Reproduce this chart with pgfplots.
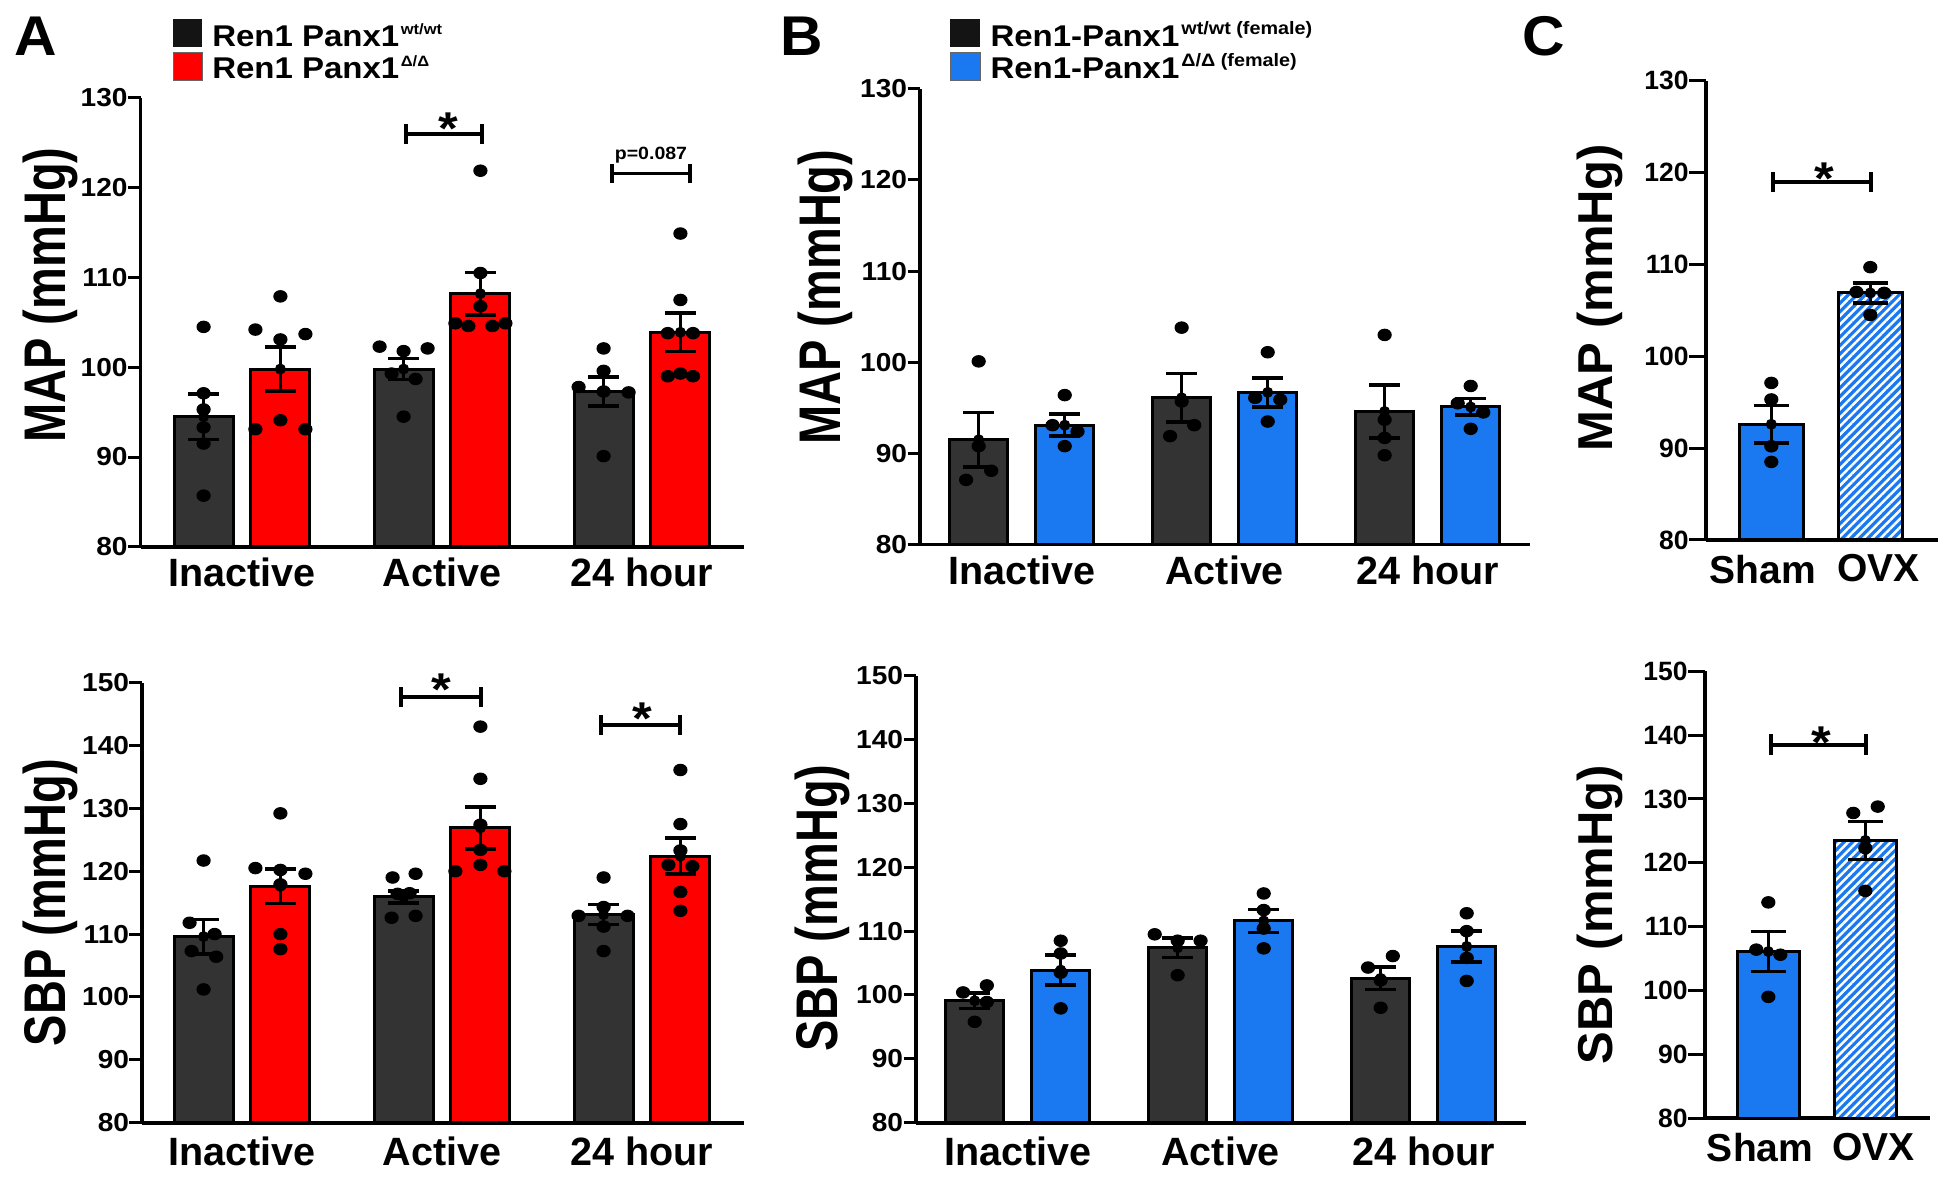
\documentclass[border=0pt]{standalone}
\usepackage{fontspec}
\setmainfont{Liberation Sans}
\newfontfamily\fK[FakeStretch=1.08]{Liberation Sans}
\newfontfamily\fT[FakeStretch=1.1]{Liberation Sans}
\newfontfamily\fM[FakeStretch=0.8]{Liberation Sans}
\newfontfamily\fL[FakeStretch=1.05]{Liberation Sans}
\usepackage{pgfplots}
\pgfplotsset{compat=1.18}
\usetikzlibrary{patterns.meta}
\definecolor{dg}{HTML}{333333}
\definecolor{rd}{HTML}{FF0000}
\definecolor{bl}{HTML}{1A78F0}
\tikzset{yl/.style={font=\fM\bfseries\fontsize{23.5}{26}\selectfont, anchor=base, inner sep=0pt}}
\pgfplotsset{
  panel/.style={
    scale only axis, anchor=south west,
    axis x line*=bottom, axis y line*=left,
    axis line style={line width=1.5pt, black},
    tick align=outside, major tick length=5pt,
    xtick style={draw=none},
    ytick style={line width=1.2pt, black},
    clip mode=individual,
    /pgf/number format/assume math mode=true,
    yticklabel style={font=\fK\bfseries\fontsize{10.4}{12}\selectfont, inner sep=0pt, anchor=east},
    xticklabel style={font=\bfseries\fontsize{15.8}{18}\selectfont, inner sep=0pt, anchor=north, yshift=0.6pt},
    xtick={0,1,2}, xticklabels={Inactive,Active,24 hour},
    ymin=80,
  },
  low/.style={xticklabel style={yshift=-1.1pt}},
  panelC/.style={panel, xtick={-0.085,1.085}, xticklabels={Sham,OVX}, major tick length=6.8pt,
    yticklabel style={font=\bfseries\fontsize{10.6}{12}\selectfont},
    xticklabel style={font=\bfseries\fontsize{15.6}{18}\selectfont, yshift=0.5pt}},
  bars/.style={ybar, draw=black, line width=1.2pt},
  eb/.style={forget plot, only marks, mark=none,
    error bars/y dir=both, error bars/y explicit,
    error bars/error bar style={line width=1.4pt, draw=black},
    error bars/error mark options={draw=black, line width=1.4pt, mark size=6.2pt, rotate=90}},
  ebC/.style={eb, error bars/error mark options={draw=black, line width=1.4pt, mark size=7pt, rotate=90}},
  dots/.style={only marks, mark=*, mark size=2.3pt, mark options={fill=black, draw=black, xscale=1.15}},
}
\newcommand{\brk}[5]{\draw[line width=1.5pt, black] (axis cs:#1,#3) -- (axis cs:#2,#3) (axis cs:#1,#4) -- (axis cs:#1,#5) (axis cs:#2,#4) -- (axis cs:#2,#5);}
\newcommand{\sig}[2]{\node[font=\fT\bfseries\fontsize{18.4}{20}\selectfont, anchor=base, inner sep=0pt, yshift=-10.5pt] at (axis cs:#1,#2) {*};}
\begin{document}
\begin{tikzpicture}
\path (0,0) rectangle (780pt,472pt);
% panel letters
\node[anchor=base west, inner sep=0pt, font=\fL\bfseries\fontsize{22.4}{24}\selectfont] at (5.6pt,449.8pt) {A};
\node[anchor=base west, inner sep=0pt, font=\fL\bfseries\fontsize{22.4}{24}\selectfont] at (312pt,449.8pt) {B};
\node[anchor=base west, inner sep=0pt, font=\fL\bfseries\fontsize{22.4}{24}\selectfont] at (608.8pt,449.8pt) {C};
% legend A
\fill[black!92] (69.2pt,453.2pt) rectangle (80.8pt,464.4pt);
\filldraw[fill=rd, draw=black!60, line width=0.3pt] (69.2pt,440pt) rectangle (80.8pt,451.2pt);
\node[anchor=base west, inner sep=0pt, font=\fT\bfseries\fontsize{12}{14}\selectfont] at (84.7pt,453.3pt) {Ren1 Panx1\kern0.6pt\raisebox{4.7pt}{\fontsize{6}{7}\selectfont wt/wt}};
\node[anchor=base west, inner sep=0pt, font=\fT\bfseries\fontsize{12}{14}\selectfont] at (84.7pt,440.7pt) {Ren1 Panx1\kern0.6pt\raisebox{4.7pt}{\fontsize{6}{7}\selectfont Δ/Δ}};
% legend B
\fill[black!92] (380pt,453.2pt) rectangle (392pt,464.4pt);
\filldraw[fill=bl, draw=black!60, line width=0.3pt] (380pt,440pt) rectangle (392pt,451.2pt);
\node[anchor=base west, inner sep=0pt, font=\fT\bfseries\fontsize{12}{14}\selectfont] at (396pt,453.3pt) {Ren1-Panx1\kern0.8pt\raisebox{4.7pt}{\fontsize{7.2}{8}\selectfont wt/wt (female)}};
\node[anchor=base west, inner sep=0pt, font=\fT\bfseries\fontsize{12}{14}\selectfont] at (396pt,440.7pt) {Ren1-Panx1\kern0.8pt\raisebox{4.7pt}{\fontsize{7.2}{8}\selectfont Δ/Δ (female)}};

% ---------- A top ----------
\begin{axis}[panel, at={(56.24pt,253.28pt)}, width=241.36pt, height=179.52pt,
  xmin=-0.507, xmax=2.51, ymax=130, ytick={80,90,...,130},
  ylabel={MAP (mmHg)}, ylabel style={yl, at={(axis description cs:-0.1246,0.561)}}]
\addplot[bars, fill=dg, bar width=23.6pt, bar shift=-15.34pt] coordinates {(0,94.5) (1,99.8) (2,97.3)};
\addplot[bars, fill=rd, bar width=23.6pt, bar shift=15.34pt] coordinates {(0,99.8) (1,108.2) (2,103.9)};
\addplot[eb] coordinates {(-0.192,94.5) +- (0,2.55) (0.808,99.8) +- (0,1.15) (1.808,97.3) +- (0,1.6)};
\addplot[eb] coordinates {(0.192,99.8) +- (0,2.45) (1.192,108.2) +- (0,2.35) (2.192,103.9) +- (0,2.15)};
\addplot[dots] coordinates {(-0.192,104.5) (-0.192,97.1) (-0.192,95.3) (-0.192,93.3) (-0.192,91.5) (-0.192,85.7)};
\addplot[dots] coordinates {(0.192,107.9) (0.067,104.2) (0.317,103.7) (0.192,103.1) (0.192,94.1) (0.067,93.1) (0.317,93.1)};
\addplot[dots] coordinates {(0.688,102.3) (0.928,102.1) (0.808,101.8) (0.748,99.3) (0.868,98.7) (0.808,94.5)};
\addplot[dots] coordinates {(1.192,121.9) (1.192,110.5) (1.192,106.8) (1.067,104.9) (1.132,104.6) (1.252,104.6) (1.317,104.9)};
\addplot[dots] coordinates {(1.808,102.1) (1.808,99.6) (1.683,97.8) (1.808,97.3) (1.933,97.2) (1.808,90.1)};
\addplot[dots] coordinates {(2.192,114.9) (2.192,107.5) (2.129,103.8) (2.255,103.8) (2.129,99.0) (2.255,99.0) (2.192,99.3)};
\brk{0.82}{1.2}{126}{124.9}{127.1}
\sig{1.03}{127.7}
\brk{1.85}{2.24}{121.6}{120.5}{122.7}
\node[anchor=base, inner sep=0pt, font=\fT\bfseries\fontsize{7.1}{8}\selectfont] at (axis cs:2.045,123.2) {p=0.087};
\end{axis}

% ---------- A bottom ----------
\begin{axis}[panel, low, at={(56.8pt,22.92pt)}, width=240.8pt, height=176.04pt,
  xmin=-0.5, xmax=2.51, ymax=150, ytick={80,90,...,150},
  ylabel={SBP (mmHg)}, ylabel style={yl, at={(axis description cs:-0.1272,0.5)}}]
\addplot[bars, fill=dg, bar width=23.6pt, bar shift=-15.34pt] coordinates {(0,109.6) (1,115.9) (2,113.1)};
\addplot[bars, fill=rd, bar width=23.6pt, bar shift=15.34pt] coordinates {(0,117.6) (1,126.9) (2,122.4)};
\addplot[eb] coordinates {(-0.192,109.6) +- (0,2.75) (0.808,115.9) +- (0,0.95) (1.808,113.1) +- (0,1.6)};
\addplot[eb] coordinates {(0.192,117.6) +- (0,2.75) (1.192,126.9) +- (0,3.35) (2.192,122.4) +- (0,2.85)};
\addplot[dots] coordinates {(-0.192,121.7) (-0.262,111.8) (-0.137,110.0) (-0.252,107.3) (-0.129,106.4) (-0.192,101.2)};
\addplot[dots] coordinates {(0.192,129.2) (0.067,120.5) (0.192,120.2) (0.317,119.6) (0.192,117.9) (0.192,110.0) (0.192,107.6)};
\addplot[dots] coordinates {(0.753,119.0) (0.868,119.6) (0.778,116.4) (0.838,116.5) (0.748,112.6) (0.868,112.9)};
\addplot[dots] coordinates {(1.192,143.0) (1.192,134.7) (1.192,127.4) (1.192,123.4) (1.067,120.0) (1.192,121.0) (1.312,120.0)};
\addplot[dots] coordinates {(1.808,119.0) (1.683,112.9) (1.928,112.9) (1.808,114.3) (1.808,111.2) (1.808,107.3)};
\addplot[dots] coordinates {(2.192,136.1) (2.192,127.5) (2.192,123.3) (2.132,121.0) (2.252,120.8) (2.192,116.7) (2.192,113.7)};
\brk{0.795}{1.195}{147.7}{146.1}{149.3}
\sig{0.995}{150.6}
\brk{1.795}{2.19}{143.3}{141.7}{144.9}
\sig{2.0}{145.9}
\end{axis}

% ---------- B top ----------
\begin{axis}[panel, at={(368pt,254.16pt)}, width=243.9pt, height=182.32pt,
  xmin=-0.501, xmax=2.503, ymax=130, ytick={80,90,...,130},
  ylabel={MAP (mmHg)}, ylabel style={yl, at={(axis description cs:-0.131,0.543)}}]
\addplot[bars, fill=dg, bar width=23pt, bar shift=-17.2pt] coordinates {(0,91.5) (1,96.1) (2,94.6)};
\addplot[bars, fill=bl, bar width=23pt, bar shift=17.2pt] coordinates {(0,93.1) (1,96.7) (2,95.1)};
\addplot[eb] coordinates {(-0.212,91.5) +- (0,3.0) (0.788,96.1) +- (0,2.65) (1.788,94.6) +- (0,2.9)};
\addplot[eb] coordinates {(0.212,93.1) +- (0,1.2) (1.212,96.7) +- (0,1.6) (2.212,95.1) +- (0,0.9)};
\addplot[dots] coordinates {(-0.212,100.1) (-0.212,90.8) (-0.150,88.1) (-0.274,87.1)};
\addplot[dots] coordinates {(0.212,96.4) (0.152,93.1) (0.275,92.4) (0.212,90.8)};
\addplot[dots] coordinates {(0.788,103.8) (0.788,95.7) (0.850,93.1) (0.731,91.9)};
\addplot[dots] coordinates {(1.212,101.1) (1.150,96.1) (1.274,95.9) (1.212,93.5)};
\addplot[dots] coordinates {(1.788,103.0) (1.788,93.7) (1.788,91.7) (1.788,89.8)};
\addplot[dots] coordinates {(2.212,97.4) (2.148,95.5) (2.274,94.5) (2.212,92.7)};
\end{axis}

% ---------- B bottom ----------
\begin{axis}[panel, low, at={(366.4pt,22.92pt)}, width=243.9pt, height=178.8pt,
  xmin=-0.501, xmax=2.503, ymax=150, ytick={80,90,...,150},
  ylabel={SBP (mmHg)}, ylabel style={yl, at={(axis description cs:-0.1286,0.48)}}]
\addplot[bars, fill=dg, bar width=23pt, bar shift=-17.2pt] coordinates {(0,99.1) (1,107.4) (2,102.6)};
\addplot[bars, fill=bl, bar width=23pt, bar shift=17.2pt] coordinates {(0,103.9) (1,111.6) (2,107.6)};
\addplot[eb] coordinates {(-0.212,99.1) +- (0,1.2) (0.788,107.4) +- (0,1.5) (1.788,102.6) +- (0,1.75)};
\addplot[eb] coordinates {(0.212,103.9) +- (0,2.35) (1.212,111.6) +- (0,1.8) (2.212,107.6) +- (0,2.4)};
\addplot[dots] coordinates {(-0.269,100.4) (-0.152,101.5) (-0.152,98.9) (-0.212,95.8)};
\addplot[dots] coordinates {(0.212,108.5) (0.212,106.5) (0.212,103.5) (0.212,97.9)};
\addplot[dots] coordinates {(0.675,109.5) (0.788,108.5) (0.901,108.5) (0.788,103.1)};
\addplot[dots] coordinates {(1.212,115.9) (1.212,113.3) (1.212,110.4) (1.212,107.3)};
\addplot[dots] coordinates {(1.848,106.1) (1.726,104.3) (1.788,102.3) (1.788,98.0)};
\addplot[dots] coordinates {(2.212,112.8) (2.212,110.0) (2.212,105.8) (2.212,102.2)};
\end{axis}

% ---------- C top ----------
\begin{axis}[panelC, at={(682.4pt,256pt)}, width=92.8pt, height=183.72pt,
  xmin=-0.66, xmax=1.684, ymax=130, ytick={80,90,...,130},
  ylabel={MAP (mmHg)}, ylabel style={yl, font=\bfseries\fontsize{19.6}{22}\selectfont, at={(axis description cs:-0.401,0.528)}}]
\addplot[bars, fill=bl, bar width=25.6pt] coordinates {(0,92.6)};
\addplot[bars, fill=bl, bar width=25.6pt, postaction={pattern={Lines[angle=45,distance=2.4pt,line width=1pt]}, pattern color=white}] coordinates {(1,106.9)};
\addplot[ebC] coordinates {(0,92.6) +- (0,2.05) (1,106.9) +- (0,1.1)};
\addplot[dots] coordinates {(0,97.1) (0,95.3) (0,90.2) (0,88.5)};
\addplot[dots] coordinates {(1,109.7) (0.86,107.0) (1.14,106.9) (1,104.5)};
\brk{0.017}{1.007}{119.0}{117.9}{120.1}
\sig{0.54}{120.5}
\end{axis}

% ---------- C bottom ----------
\begin{axis}[panelC, at={(682pt,24.72pt)}, width=90pt, height=178.8pt,
  xmin=-0.653, xmax=1.667, ymax=150, ytick={80,90,...,150},
  ylabel={SBP (mmHg)}, ylabel style={yl, font=\bfseries\fontsize{19.6}{22}\selectfont, at={(axis description cs:-0.409,0.4555)}}]
\addplot[bars, fill=bl, bar width=24.8pt] coordinates {(0,106.1)};
\addplot[bars, fill=bl, bar width=24.8pt, postaction={pattern={Lines[angle=45,distance=2.4pt,line width=1pt]}, pattern color=white}] coordinates {(1,123.5)};
\addplot[ebC] coordinates {(0,106.1) +- (0,3.15) (1,123.5) +- (0,3.0)};
\addplot[dots] coordinates {(0,113.8) (-0.124,106.4) (0.124,105.6) (0,99.0)};
\addplot[dots] coordinates {(0.876,127.8) (1.128,128.8) (1,122.3) (1,115.6)};
\brk{0.025}{1.007}{138.5}{136.9}{140.1}
\sig{0.545}{140.5}
\end{axis}
\end{tikzpicture}
\end{document}
